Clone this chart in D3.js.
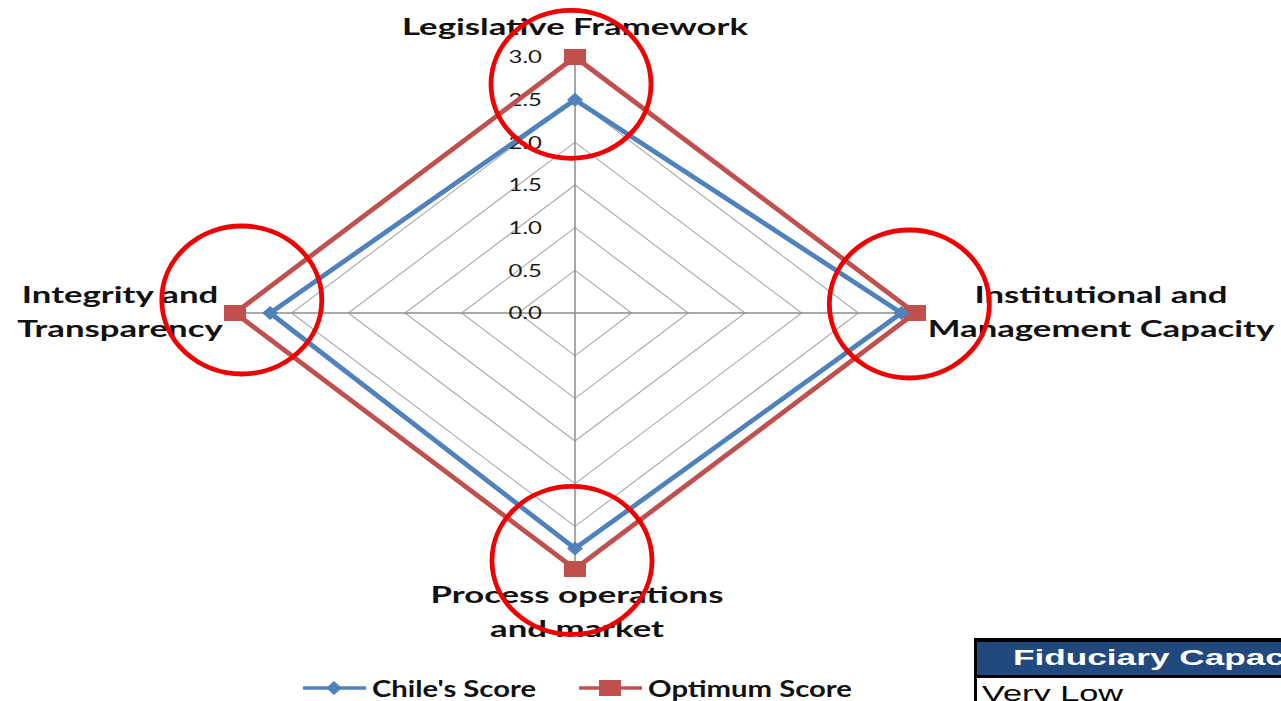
<!DOCTYPE html>
<html>
<head>
<meta charset="utf-8">
<script src="https://cdn.jsdelivr.net/npm/d3@7"></script>
<style>
  body { margin: 0; background: #fff; overflow: hidden; }
  svg { display: block; }
</style>
</head>
<body>
<div id="chart"></div>
<script>
// Data
const axisLabels = [
    ["Legislative Framework"],
    ["Institutional and", "Management Capacity"],
    ["Process operations", "and market"],
    ["Integrity and", "Transparency"]
];
const chileScores = [2.5, 2.88, 2.76, 2.69];
const optimumScores = [3, 3, 3, 3];
const tickValues = [0, 0.5, 1, 1.5, 2, 2.5, 3];
const seriesNames = ["Chile's Score", "Optimum Score"];
const highlightAt = [2.68, 2.95, 2.9, 2.94]; // red rings, in score units along each axis
const tableHeader = "Fiduciary Capacity";
const tableRows = ["Very Low"];

// SVG setup
const width = 1281;
const height = 701;
const cx = 575, cy = 313;
const stretch = 1.33;      // picture is wider than it is tall
const labelStretch = 1.51;

const svg = d3.select("#chart")
    .append("svg")
    .attr("width", width)
    .attr("height", height)
    .attr("viewBox", `0 0 ${width} ${height}`);

const rx = d3.scaleLinear().domain([0, 3]).range([0, 340]);
const ry = d3.scaleLinear().domain([0, 3]).range([0, 256]);

const dirs = [[0, -1], [1, 0], [0, 1], [-1, 0]];
const pt = (i, v) => [cx + dirs[i][0] * rx(v), cy + dirs[i][1] * ry(v)];

const colors = { chile: "#4F81BD", optimum: "#C0504D" };
const labelFont = "Lato, 'Open Sans', sans-serif";

// Grid rings
svg.append("g")
    .selectAll("path")
    .data(tickValues.slice(1))
    .join("path")
    .attr("d", v => d3.line()(dirs.map((_, i) => pt(i, v))) + "Z")
    .attr("fill", "none")
    .attr("stroke", "#a8a8a8")
    .attr("stroke-width", 1.1);

// Spokes
svg.append("g")
    .selectAll("line")
    .data(dirs.map((_, i) => i))
    .join("line")
    .attr("x1", cx).attr("y1", cy)
    .attr("x2", i => pt(i, 3)[0])
    .attr("y2", i => pt(i, 3)[1])
    .attr("stroke", "#8c8c8c")
    .attr("stroke-width", 1.5);

// Tick labels
svg.append("g")
    .selectAll("text")
    .data(tickValues)
    .join("text")
    .attr("transform", v => `translate(${cx - 33},${cy - ry(v)}) scale(${stretch},1)`)
    .attr("dy", "0.36em")
    .attr("text-anchor", "end")
    .style("font-family", labelFont)
    .style("font-size", "18px")
    .style("fill", "#1a1a1a")
    .text(d3.format(".1f"));

// Series
const series = [
    { name: seriesNames[1], values: optimumScores, color: colors.optimum, marker: "square" },
    { name: seriesNames[0], values: chileScores, color: colors.chile, marker: "diamond" }
];

function markerPath(type) {
    return type === "square"
        ? "M-11,-8H11V8H-11Z"
        : "M0,-7L8,0L0,7L-8,0Z";
}

series.forEach(s => {
    const pts = s.values.map((v, i) => pt(i, v));
    svg.append("path")
        .attr("d", d3.line()(pts) + "Z")
        .attr("fill", "none")
        .attr("stroke", s.color)
        .attr("stroke-width", 4.8)
        .attr("stroke-linejoin", "miter");

    svg.append("g")
        .selectAll("path")
        .data(pts)
        .join("path")
        .attr("transform", d => `translate(${d[0]},${d[1]})`)
        .attr("d", markerPath(s.marker))
        .attr("fill", s.color);
});

// Axis labels
const labelPos = [
    { x: 575, y: 35 },
    { x: 1101, y: 303 },
    { x: 577, y: 603 },
    { x: 120, y: 303 }
];

axisLabels.forEach((lines, i) => {
    svg.append("g")
        .selectAll("text")
        .data(lines)
        .join("text")
        .attr("transform", (d, j) => `translate(${labelPos[i].x},${labelPos[i].y + j * 34}) scale(${labelStretch},1)`)
        .attr("text-anchor", "middle")
        .style("font-family", labelFont)
        .style("font-weight", "bold")
        .style("font-size", "23px")
        .style("fill", "#111")
        .text(d => d);
});

// Red highlight rings
const ringNudge = [[-4, 0], [0, -9], [-3, 0], [0, -13]];
svg.append("g")
    .selectAll("ellipse")
    .data(highlightAt)
    .join("ellipse")
    .attr("cx", (v, i) => pt(i, v)[0] + ringNudge[i][0])
    .attr("cy", (v, i) => pt(i, v)[1] + ringNudge[i][1])
    .attr("rx", 80)
    .attr("ry", 74)
    .attr("fill", "none")
    .attr("stroke", "#f00000")
    .attr("stroke-width", 4.8);

// Legend
const legendX = [303, 579];
const legend = svg.append("g")
    .selectAll("g")
    .data([series[1], series[0]])
    .join("g")
    .attr("transform", (d, i) => `translate(${legendX[i]},688)`);

legend.append("line")
    .attr("x1", 0).attr("x2", 63)
    .attr("stroke", d => d.color)
    .attr("stroke-width", 3.5);

legend.append("path")
    .attr("transform", "translate(31,0)")
    .attr("d", d => markerPath(d.marker))
    .attr("fill", d => d.color);

legend.append("text")
    .attr("transform", `translate(69,9) scale(${stretch},1)`)
    .style("font-family", labelFont)
    .style("font-weight", "bold")
    .style("font-size", "22px")
    .style("fill", "#111")
    .text(d => d.name);

// Table fragment (bottom right)
const table = svg.append("g").attr("transform", "translate(974,638)");
table.append("rect")
    .attr("width", 400).attr("height", 120)
    .attr("fill", "#000");
table.append("rect")
    .attr("x", 3).attr("y", 4)
    .attr("width", 400).attr("height", 33)
    .attr("fill", "#21497D");
table.append("rect")
    .attr("x", 3).attr("y", 40)
    .attr("width", 400).attr("height", 80)
    .attr("fill", "#fff");

table.append("text")
    .attr("transform", "translate(39,27) scale(1.6,1)")
    .style("font-family", "'Liberation Sans', Arial, sans-serif")
    .style("font-weight", "bold")
    .style("font-size", "22px")
    .style("fill", "#fff")
    .text(tableHeader);

table.selectAll(".row")
    .data(tableRows)
    .join("text")
    .attr("class", "row")
    .attr("transform", (d, i) => `translate(8,${63 + i * 36}) scale(1.56,1)`)
    .style("font-family", "'Liberation Sans', Arial, sans-serif")
    .style("font-size", "22px")
    .style("fill", "#000")
    .text(d => d);
</script>
</body>
</html>
